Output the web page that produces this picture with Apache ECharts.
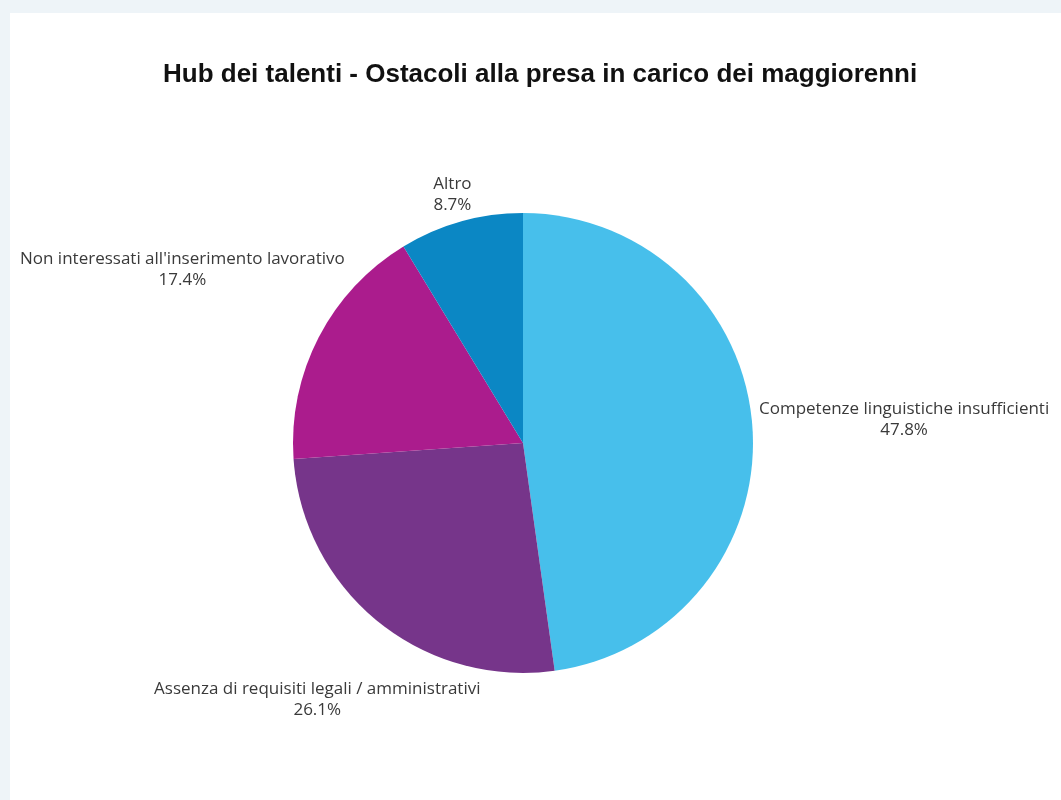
<!DOCTYPE html>
<html>
<head>
<meta charset="utf-8">
<script src="https://cdn.jsdelivr.net/npm/echarts@6/dist/echarts.min.js"></script>
<style>
  html, body { margin: 0; padding: 0; background: #eef4f8; }
  #card { position: absolute; left: 10px; top: 13px; width: 1051px; height: 787px; background: #ffffff; }
  #chart { width: 1051px; height: 787px; }
</style>
</head>
<body>
<div id="card"><div id="chart"></div></div>
<script>
// Ostacoli alla presa in carico (quote percentuali)
const categories = [
  'Competenze linguistiche insufficienti',
  'Assenza di requisiti legali / amministrativi',
  "Non interessati all'inserimento lavorativo",
  'Altro'
];
const shares = [47.8, 26.1, 17.4, 8.7];
const sliceColors = ['#47bfeb', '#76358a', '#ab1c8d', '#0b87c4'];

const chartTitle = 'Hub dei talenti - Ostacoli alla presa in carico dei maggiorenni';

// pie geometry (px, within the card)
const CX = 513, CY = 430, R = 230;
const LABEL_GAP = 6;
// Open Sans sits high in its line box; nudge text down to its optical centre
const TEXT_BASELINE_NUDGE = 3;

const chart = echarts.init(document.getElementById('chart'), null, { renderer: 'canvas' });

const total = shares.reduce((a, b) => a + b, 0);

// direction (unit vector, screen coords) of each slice's middle, clockwise from 12 o'clock
function midDirection(index) {
  let before = 0;
  for (let i = 0; i < index; i++) before += shares[i];
  const frac = (before + shares[index] / 2) / total;
  const a = frac * 2 * Math.PI;
  return [Math.sin(a), -Math.cos(a)];
}

// push the label box outward along the slice's middle direction until it clears the circle
function placeLabel(params) {
  const dir = midDirection(params.dataIndex);
  const hw = params.labelRect.width / 2;
  const hh = params.labelRect.height / 2;
  let d = R;
  for (; d < R + 400; d += 0.5) {
    const bx = CX + dir[0] * d, by = CY + dir[1] * d;
    const nx = Math.max(bx - hw, Math.min(CX, bx + hw));
    const ny = Math.max(by - hh, Math.min(CY, by + hh));
    if (Math.hypot(nx - CX, ny - CY) >= R + LABEL_GAP) break;
  }
  return {
    x: CX + dir[0] * d,
    y: CY + dir[1] * d + TEXT_BASELINE_NUDGE,
    align: 'center',
    verticalAlign: 'middle'
  };
}

chart.setOption({
  backgroundColor: '#ffffff',
  animation: false,
  title: {
    text: chartTitle,
    left: 153,
    top: 49,
    padding: 0,
    textStyle: {
      fontFamily: 'Liberation Sans',
      fontWeight: 'bold',
      fontSize: 26,
      color: '#111111'
    }
  },
  series: [{
    type: 'pie',
    center: [CX, CY],
    radius: R,
    startAngle: 90,
    clockwise: true,
    avoidLabelOverlap: false,
    color: sliceColors,
    itemStyle: { borderWidth: 0 },
    label: {
      show: true,
      position: 'outside',
      fontFamily: 'Open Sans',
      fontSize: 17,
      lineHeight: 21,
      color: '#3a3a3a',
      formatter: p => p.name + '\n' + p.value.toFixed(1) + '%'
    },
    labelLine: { show: false, length: 0, length2: 0 },
    labelLayout: placeLabel,
    emphasis: { disabled: true },
    data: categories.map((name, i) => ({ name: name, value: shares[i] }))
  }]
});
</script>
</body>
</html>
